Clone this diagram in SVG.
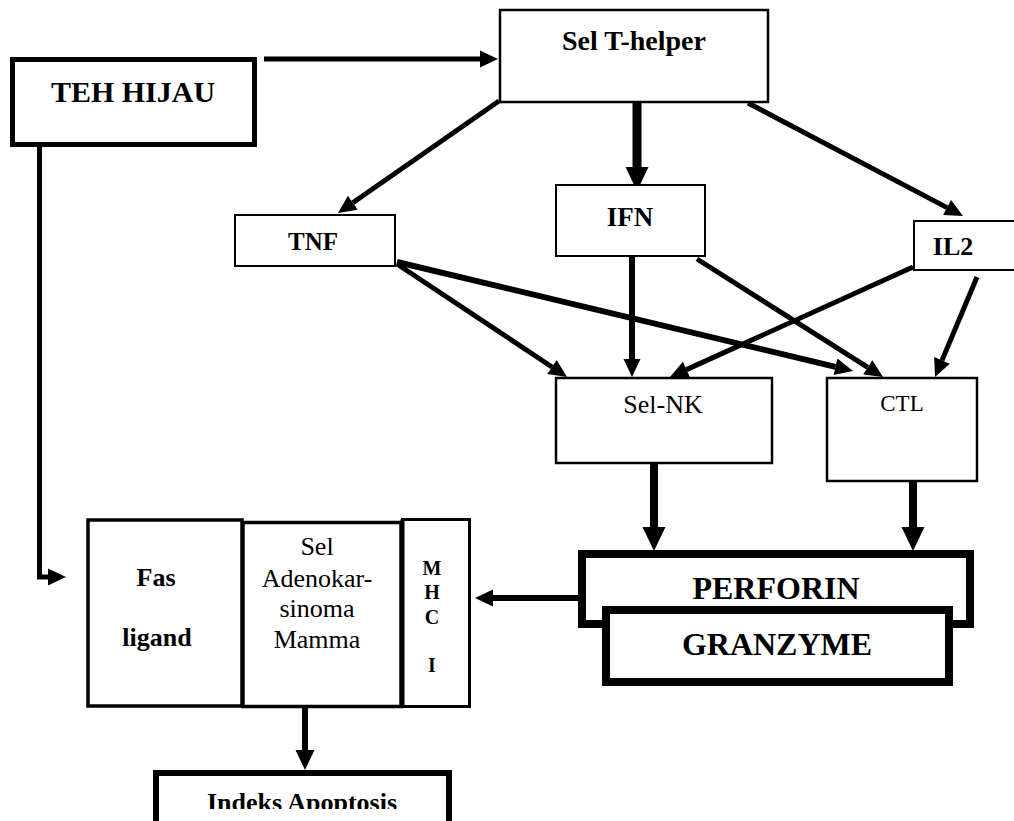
<svg xmlns="http://www.w3.org/2000/svg" width="1014" height="821" viewBox="0 0 1014 821">
  <style>
    .box { fill: #fff; stroke: #000; }
    .t { font-family: "Liberation Serif", "Times New Roman", serif; fill: #000; text-anchor: middle; }
    .b { font-weight: bold; }
    .ln { fill: none; stroke: #000; }
  </style>
  <defs>
    <!-- arrowheads, base sits at the line end -->
    <marker id="ah" markerUnits="userSpaceOnUse" markerWidth="18" markerHeight="17" refX="0" refY="8.5" orient="auto" overflow="visible">
      <path d="M0,0 L18,8.5 L0,17 z" fill="#000"/>
    </marker>
    <marker id="ahb" markerUnits="userSpaceOnUse" markerWidth="24" markerHeight="23" refX="0" refY="11.5" orient="auto" overflow="visible">
      <path d="M0,0 L24,11.5 L0,23 z" fill="#000"/>
    </marker>
    <marker id="ahm" markerUnits="userSpaceOnUse" markerWidth="20" markerHeight="19" refX="0" refY="9.5" orient="auto" overflow="visible">
      <path d="M0,0 L20,9.5 L0,19 z" fill="#000"/>
    </marker>
    <clipPath id="pageEdge">
      <rect x="0" y="0" width="1014" height="809"/>
    </clipPath>
  </defs>

  <rect width="1014" height="821" fill="#fff"/>

  <g id="connectors">
    <line class="ln" x1="264" y1="59" x2="480" y2="59" stroke-width="5" marker-end="url(#ah)"/>
    <line class="ln" x1="637" y1="103" x2="637" y2="167" stroke-width="9" marker-end="url(#ahb)"/>
    <line class="ln" x1="499" y1="101" x2="352.8" y2="202.7" stroke-width="5" marker-end="url(#ah)"/>
    <line class="ln" x1="748" y1="103" x2="947.1" y2="207.6" stroke-width="5" marker-end="url(#ah)"/>
    <line class="ln" x1="397" y1="264" x2="552" y2="367" stroke-width="5" marker-end="url(#ah)"/>
    <line class="ln" x1="397" y1="262" x2="835.5" y2="366.8" stroke-width="6" marker-end="url(#ah)"/>
    <line class="ln" x1="632" y1="254" x2="632" y2="359" stroke-width="6" marker-end="url(#ah)"/>
    <line class="ln" x1="697" y1="259" x2="867.8" y2="367.4" stroke-width="5" marker-end="url(#ah)"/>
    <line class="ln" x1="913" y1="267" x2="686.4" y2="369.6" stroke-width="5" marker-end="url(#ah)"/>
    <line class="ln" x1="977" y1="277" x2="942" y2="360.4" stroke-width="5" marker-end="url(#ah)"/>
    <line class="ln" x1="654" y1="464" x2="654" y2="527" stroke-width="8" marker-end="url(#ahb)"/>
    <line class="ln" x1="913" y1="482" x2="913" y2="527" stroke-width="8" marker-end="url(#ahb)"/>
    <line class="ln" x1="578" y1="598" x2="493" y2="598" stroke-width="6" marker-end="url(#ah)"/>
    <polyline class="ln" points="39.5,147 39.5,577 48,577" stroke-width="5" marker-end="url(#ah)"/>
    <line class="ln" x1="305" y1="708" x2="305" y2="750" stroke-width="6" marker-end="url(#ahm)"/>
  </g>

  <g id="teh-hijau">
    <rect class="box" x="12.5" y="59.5" width="242" height="85" stroke-width="5"/>
    <text class="t b" x="133" y="102" font-size="30">TEH HIJAU</text>
  </g>

  <g id="sel-t-helper">
    <rect class="box" x="500" y="10" width="268" height="92" stroke-width="2.5"/>
    <text class="t b" x="634" y="50" font-size="28">Sel T-helper</text>
  </g>

  <g id="tnf">
    <rect class="box" x="235" y="215" width="160" height="51" stroke-width="2"/>
    <text class="t b" x="313" y="250" font-size="25">TNF</text>
  </g>

  <g id="ifn">
    <rect class="box" x="556" y="185" width="149" height="71" stroke-width="2"/>
    <text class="t b" x="630" y="226" font-size="27">IFN</text>
  </g>

  <g id="il2">
    <rect class="box" x="914" y="221" width="110" height="49" stroke-width="2"/>
    <text class="t b" x="953" y="255" font-size="26">IL2</text>
  </g>

  <g id="sel-nk">
    <rect class="box" x="556" y="378" width="216" height="85" stroke-width="2.5"/>
    <text class="t" x="663" y="413" font-size="26">Sel-NK</text>
  </g>

  <g id="ctl">
    <rect class="box" x="827" y="378" width="150" height="103" stroke-width="2.5"/>
    <text class="t" x="902" y="411" font-size="23">CTL</text>
  </g>

  <g id="perforin">
    <rect class="box" x="582" y="554" width="388" height="70" stroke-width="8"/>
    <text class="t b" x="776" y="599" font-size="32">PERFORIN</text>
  </g>

  <g id="granzyme">
    <rect class="box" x="606" y="610" width="343" height="72" stroke-width="8"/>
    <text class="t b" x="777" y="655" font-size="32">GRANZYME</text>
  </g>

  <g id="fas-ligand">
    <rect class="box" x="88" y="520" width="154" height="186" stroke-width="3.5"/>
    <text class="t b" x="156" y="586" font-size="26">Fas</text>
    <text class="t b" x="157" y="646" font-size="26">ligand</text>
  </g>

  <g id="sel-adenokarsinoma">
    <rect class="box" x="243" y="522.5" width="158" height="184" stroke-width="3.5"/>
    <text class="t" x="317" y="555" font-size="26">Sel</text>
    <text class="t" x="317" y="587" font-size="26">Adenokar-</text>
    <text class="t" x="317" y="617" font-size="26">sinoma</text>
    <text class="t" x="317" y="648" font-size="26">Mamma</text>
  </g>

  <g id="mhc-i">
    <rect class="box" x="402.5" y="519.5" width="67" height="187" stroke-width="3"/>
    <line x1="402.5" y1="519" x2="402.5" y2="708" stroke="#000" stroke-width="4"/>
    <text class="t b" x="432" y="575" font-size="20">M</text>
    <text class="t b" x="432" y="599" font-size="20">H</text>
    <text class="t b" x="432" y="624" font-size="20">C</text>
    <text class="t b" x="432" y="672" font-size="20">I</text>
  </g>

  <g id="indeks-apoptosis">
    <rect class="box" x="156" y="773" width="293" height="60" stroke-width="6"/>
    <text class="t b" x="302" y="811" font-size="26" clip-path="url(#pageEdge)">Indeks Apoptosis</text>
  </g>
</svg>
